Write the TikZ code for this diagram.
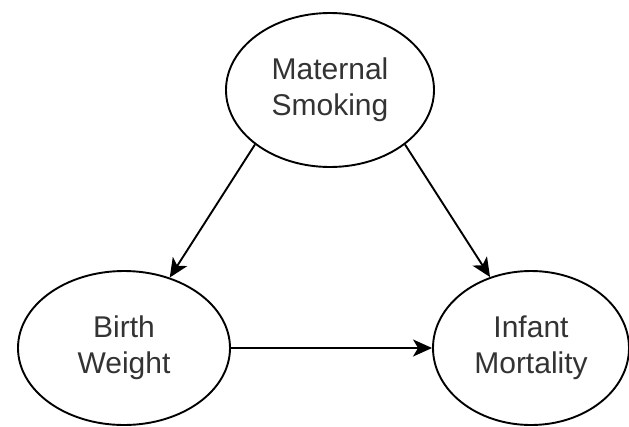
\documentclass[tikz,border=0pt]{standalone}
\usepackage{fontspec}
\setmainfont{Liberation Sans}
\usetikzlibrary{shapes.geometric,arrows.meta}
\begin{document}
\begin{tikzpicture}[x=1pt,y=-1pt,
  var/.style={ellipse,draw=black,line width=1.9pt,fill=white,
    minimum width=208pt,minimum height=154pt,inner sep=0pt,
    align=center,font=\fontsize{30}{36}\selectfont,text=black!80},
  link/.style={line width=1.9pt,-{Stealth[length=19pt,width=17pt,inset=5pt]}}]
  \useasboundingbox (0,0) rectangle (629,426);
  \node[var] (ms) at (330,90) {Maternal\\Smoking};
  \node[var,minimum width=212pt] (bw) at (124,348) {Birth\\Weight};
  \node[var,minimum width=196pt] (im) at (531,348) {Infant\\Mortality};
  \draw[link] (ms.216) -- (bw.57);
  \draw[link] (ms.324) -- (im.120);
  \draw[link] (bw.east) -- (im.west);
\end{tikzpicture}
\end{document}
